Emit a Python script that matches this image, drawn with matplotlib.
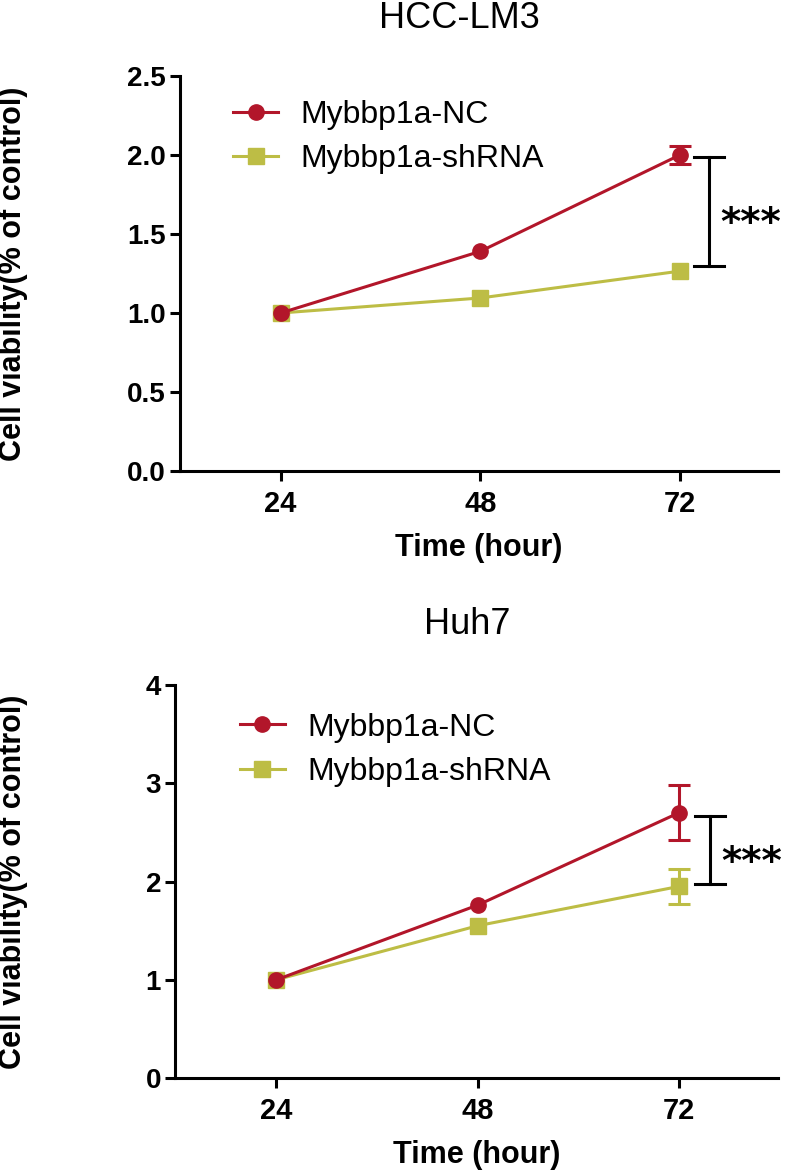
import numpy as np
import matplotlib
matplotlib.use('Agg')
import matplotlib.pyplot as plt

plt.rcParams['font.family'] = ['Liberation Sans', 'DejaVu Sans']

# Daten
hours = np.array([24, 48, 72])
labels = ["Mybbp1a-NC", "Mybbp1a-shRNA"]

lm3_nc = np.array([1.00, 1.39, 2.00])
lm3_nc_err = np.array([0.0, 0.0, 0.055])
lm3_sh = np.array([1.00, 1.095, 1.265])
lm3_sh_err = np.array([0.0, 0.0, 0.0])
lm3_sig = (1.30, 1.99)   # Klammer unten/oben

huh7_nc = np.array([1.00, 1.76, 2.70])
huh7_nc_err = np.array([0.0, 0.0, 0.28])
huh7_sh = np.array([1.00, 1.55, 1.95])
huh7_sh_err = np.array([0.0, 0.0, 0.18])
huh7_sig = (1.97, 2.67)

red = '#B2162A'
olive = '#BDBD45'
lw = 2.2

fig = plt.figure(figsize=(7.92, 11.74), dpi=100)
ax1 = fig.add_axes([180 / 792, 1 - 471 / 1174, 598 / 792, 395 / 1174])
ax2 = fig.add_axes([175 / 792, 1 - 1078 / 1174, 603 / 792, 393 / 1174])


def panel(ax, title, title_x, title_pad, nc, nc_err, sh, sh_err, sig, ylim, yticks, ytl, leg_xy, brx):
    for y, err, col, mk, lab, z in [(nc, nc_err, red, 'o', labels[0], 3),
                                    (sh, sh_err, olive, 's', labels[1], 2)]:
        ax.plot(hours, y, color=col, lw=lw, marker=mk, ms=11, label=lab, zorder=z)
        m = err > 0
        if m.any():
            ax.errorbar(hours[m], y[m], yerr=err[m], fmt='none', ecolor=col,
                        capsize=8, capthick=lw, elinewidth=lw, zorder=z)
    ax.set_xlim(11.9, 83.8)
    ax.set_ylim(*ylim)
    ax.set_xticks(hours)
    ax.set_xticklabels([str(h) for h in hours])
    ax.set_yticks(yticks)
    ax.set_yticklabels(ytl)
    for s in ['top', 'right']:
        ax.spines[s].set_visible(False)
    for s in ['left', 'bottom']:
        ax.spines[s].set_linewidth(lw)
    ax.tick_params(axis='both', length=7, width=lw, labelsize=20)
    ax.tick_params(axis='x', pad=6.5, labelsize=21)
    ax.tick_params(axis='y', pad=3)
    for t in ax.get_xticklabels() + ax.get_yticklabels():
        t.set_fontweight('bold')
    ax.set_xlabel("Time (hour)", fontsize=22, fontweight='bold', labelpad=11)
    ax.set_ylabel("Cell viability(% of control)", fontsize=22, fontweight='bold')
    ax.set_title(title, fontsize=26, x=title_x, pad=title_pad)

    # Signifikanz-Klammer
    ax.plot([brx, brx], sig, color='black', lw=lw, clip_on=False)
    for yv in sig:
        ax.plot([brx - 1.8, brx + 1.8], [yv, yv], color='black', lw=lw, clip_on=False)
    ax.annotate("***", xy=(brx, np.mean(sig)), xytext=(8, -17), textcoords='offset points',
                fontsize=28, fontweight='bold', family='DejaVu Sans',
                ha='left', va='baseline', annotation_clip=False)

    ax.legend(loc='upper left', bbox_to_anchor=leg_xy, frameon=False, fontsize=23,
              handlelength=1.4, handletextpad=0.7, labelspacing=0.45,
              borderpad=0, borderaxespad=0)


panel(ax1, "HCC-LM3", 0.467, 34.5, lm3_nc, lm3_nc_err, lm3_sh, lm3_sh_err, lm3_sig,
      (0, 2.5), [0, 0.5, 1.0, 1.5, 2.0, 2.5], ['0.0', '0.5', '1.0', '1.5', '2.0', '2.5'],
      (0.089, 0.94), 75.5)
panel(ax2, "Huh7", 0.484, 36.5, huh7_nc, huh7_nc_err, huh7_sh, huh7_sh_err, huh7_sig,
      (0, 4), [0, 1, 2, 3, 4], ['0', '1', '2', '3', '4'],
      (0.108, 0.93), 75.7)

ax1.yaxis.set_label_coords(-0.254, 0.5)
ax2.yaxis.set_label_coords(-0.244, 0.5)

fig.savefig('out.png', dpi=100)
